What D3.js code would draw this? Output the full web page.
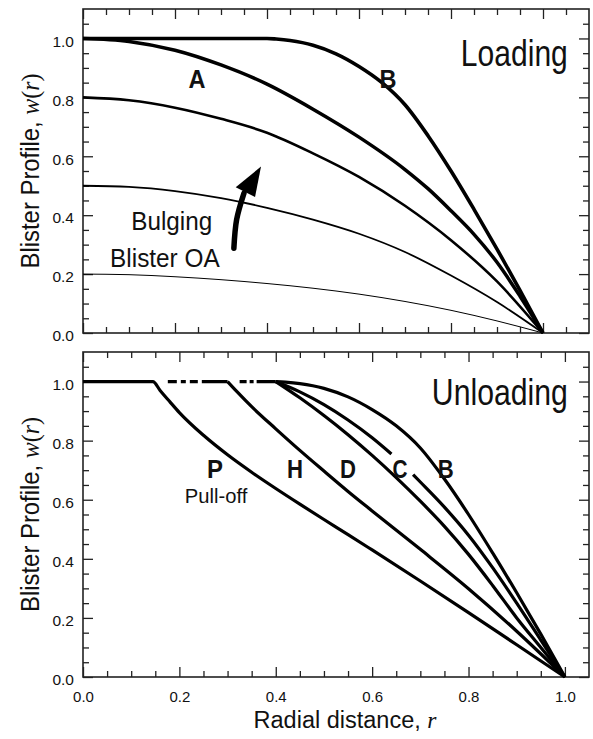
<!DOCTYPE html>
<html><head><meta charset="utf-8">
<script src="https://cdn.jsdelivr.net/npm/d3@7"></script>
<style>
body{margin:0;background:#fff}
svg{display:block}
text{font-family:"Liberation Sans",Arial,sans-serif;fill:#111}
</style>
</head><body>
<svg id="chart" width="593" height="739"></svg>
<script>
// ---------- DATA ----------
// Loading panel
const rB  = [0, 0.20, 0.38, 0.40, 0.42, 0.45, 0.50, 0.55, 0.60, 0.65, 0.70, 0.75, 0.80, 0.85, 0.90, 0.95, 1.00];
const wB  = [1, 1, 1, 1, 0.998, 0.993, 0.977, 0.948, 0.905, 0.85, 0.775, 0.67, 0.55, 0.42, 0.285, 0.145, 0];
const rA  = [0, 0.1, 0.2, 0.3, 0.4, 0.5, 0.6, 0.7, 0.75, 0.8, 0.85, 0.9, 0.95, 1.0];
const wA  = [1, 0.99, 0.96, 0.91, 0.845, 0.76, 0.665, 0.555, 0.49, 0.415, 0.335, 0.24, 0.125, 0];
const rLow = [0, 0.1, 0.2, 0.3, 0.4, 0.5, 0.6, 0.7, 0.8, 0.9, 1.0];
const w08 = [0.8, 0.79, 0.765, 0.727, 0.68, 0.61, 0.53, 0.432, 0.315, 0.175, 0];
const w05 = [0.5, 0.496, 0.482, 0.458, 0.425, 0.385, 0.337, 0.275, 0.195, 0.105, 0];
const w02 = [0.2, 0.198, 0.191, 0.181, 0.168, 0.152, 0.132, 0.107, 0.077, 0.041, 0];

// Unloading panel
const rP = [0, 0.145, 0.16, 0.18, 0.2, 0.25, 0.3, 0.35, 0.4, 0.45, 0.5, 0.55, 0.6, 0.7, 0.8, 0.9, 1.0];
const wP = [1, 1, 0.97, 0.932, 0.895, 0.818, 0.752, 0.693, 0.638, 0.585, 0.533, 0.482, 0.43, 0.325, 0.218, 0.109, 0];
const rH = [0.3, 0.32, 0.35, 0.4, 0.45, 0.5, 0.55, 0.6, 0.7, 0.8, 0.9, 1.0];
const wH = [1, 0.965, 0.915, 0.84, 0.767, 0.697, 0.628, 0.562, 0.432, 0.299, 0.155, 0];
const rD = [0.4, 0.45, 0.5, 0.55, 0.6, 0.65, 0.7, 0.75, 0.8, 0.85, 0.9, 0.95, 1.0];
const wD = [1, 0.945, 0.885, 0.82, 0.75, 0.675, 0.595, 0.51, 0.415, 0.31, 0.2, 0.1, 0];
const rC = [0.4, 0.45, 0.5, 0.55, 0.6, 0.64, 0.66, 0.685, 0.7, 0.75, 0.8, 0.85, 0.9, 0.95, 1.0];
const wC = [1, 0.965, 0.922, 0.87, 0.81, 0.755, 0.725, 0.685, 0.66, 0.575, 0.48, 0.37, 0.25, 0.125, 0];
const cGap = [0.64, 0.685];
const flatDashed = [[0.176, 0.30], [0.325, 0.40]];   // dashed w = 1 segments

// tick values
const majorTicks = [0, 0.2, 0.4, 0.6, 0.8, 1.0];

// annotations (data coordinates)
const topLabels = [
  {t: "A", r: 0.248, w: 0.831},
  {t: "B", r: 0.663, w: 0.831}
];
const botLabels = [
  {t: "P", r: 0.274, w: 0.675},
  {t: "H", r: 0.44,  w: 0.675},
  {t: "D", r: 0.55,  w: 0.675},
  {t: "C", r: 0.658, w: 0.675},
  {t: "B", r: 0.753, w: 0.675}
];
const arrowShaft = [[0.328, 0.288], [0.334, 0.385], [0.35, 0.475]];
const arrowHead  = [[0.387, 0.565], [0.332, 0.495], [0.374, 0.462]];

// ---------- LAYOUT ----------
const svg = d3.select("#chart");
const L = 83, R = 589;
const top1 = 9, bot1 = 333, top2 = 352, bot2 = 677;

const x1 = d3.scaleLinear().domain([0, 1.1]).range([L, R]);
const y1 = d3.scaleLinear().domain([0, 1.1]).range([bot1, top1]);
const x2 = d3.scaleLinear().domain([0, 1.05]).range([L, R]);
const y2 = d3.scaleLinear().domain([0, 1.1]).range([bot2, top2]);

function minorVals(n) { return d3.range(1, n + 1).filter(i => i % 4 !== 0).map(i => +(i * 0.05).toFixed(2)); }

function drawAxes(x, y, top, bot, nx, showX) {
  const g = svg.append("g");
  const style = s => { s.select(".domain").remove(); s.selectAll("line").attr("stroke", "#222").attr("stroke-width", 1.3); };
  const mx = minorVals(nx), my = minorVals(21);
  // left
  g.append("g").attr("transform", `translate(${L},0)`)
    .call(d3.axisLeft(y).tickValues(majorTicks).tickSize(-10).tickPadding(9).tickFormat(d3.format(".1f")))
    .call(style)
    .call(s => s.selectAll("text").attr("font-size", 15.5).attr("dy", "0.5em").attr("fill", "#111")
      .attr("font-family", '"Liberation Sans",Arial,sans-serif'));
  g.append("g").attr("transform", `translate(${L},0)`)
    .call(d3.axisLeft(y).tickValues(my).tickSize(-6).tickFormat("")).call(style);
  // right
  g.append("g").attr("transform", `translate(${R},0)`)
    .call(d3.axisRight(y).tickValues(majorTicks).tickSize(-10).tickFormat("")).call(style);
  g.append("g").attr("transform", `translate(${R},0)`)
    .call(d3.axisRight(y).tickValues(my).tickSize(-6).tickFormat("")).call(style);
  // top
  g.append("g").attr("transform", `translate(0,${top})`)
    .call(d3.axisTop(x).tickValues(majorTicks).tickSize(-10).tickFormat("")).call(style);
  g.append("g").attr("transform", `translate(0,${top})`)
    .call(d3.axisTop(x).tickValues(mx).tickSize(-6).tickFormat("")).call(style);
  // bottom
  const bx = g.append("g").attr("transform", `translate(0,${bot})`)
    .call(d3.axisBottom(x).tickValues(majorTicks).tickSize(-10).tickPadding(14)
      .tickFormat(showX ? d3.format(".1f") : "")).call(style);
  bx.selectAll("text").attr("font-size", 15).attr("fill", "#111")
    .attr("font-family", '"Liberation Sans",Arial,sans-serif');
  g.append("g").attr("transform", `translate(0,${bot})`)
    .call(d3.axisBottom(x).tickValues(mx).tickSize(-6).tickFormat("")).call(style);
  // frame
  g.append("rect").attr("x", L).attr("y", top).attr("width", R - L).attr("height", bot - top)
    .attr("fill", "none").attr("stroke", "#222").attr("stroke-width", 1.6);
}

drawAxes(x1, y1, top1, bot1, 21, false);
drawAxes(x2, y2, top2, bot2, 20, true);

const zip = (rs, ws) => rs.map((r, i) => ({r, w: ws[i]}));

function curve(x, y, data, sw, defined) {
  const ln = d3.line().x(d => x(d.r)).y(d => y(d.w)).curve(d3.curveMonotoneX);
  if (defined) ln.defined(defined);
  svg.append("path").attr("d", ln(data)).attr("fill", "none").attr("stroke", "#000")
    .attr("stroke-width", sw).attr("stroke-linejoin", "round").attr("stroke-linecap", "butt");
}

// Loading curves
curve(x1, y1, zip(rLow, w02), 1.0);
curve(x1, y1, zip(rLow, w05), 1.8);
curve(x1, y1, zip(rLow, w08), 2.6);
curve(x1, y1, zip(rA, wA), 3.5);
curve(x1, y1, zip(rB, wB), 3.6);

// Unloading curves
curve(x2, y2, zip(rP, wP), 3.2);
curve(x2, y2, zip(rH, wH), 3.2);
curve(x2, y2, zip(rD, wD), 3.2);
curve(x2, y2, zip(rC, wC), 3.2, d => !(d.r > cGap[0] && d.r < cGap[1]));
curve(x2, y2, zip(rB, wB).filter(d => d.r >= 0.4), 3.2);

const dashPatterns = ["9,4,5,4,8,4,200", "7,3,4,3,200"];
flatDashed.forEach((seg, i) => {
  svg.append("line").attr("x1", x2(seg[0])).attr("x2", x2(seg[1]))
    .attr("y1", y2(1)).attr("y2", y2(1))
    .attr("stroke", "#000").attr("stroke-width", 3.2).attr("stroke-dasharray", dashPatterns[i]);
});

// Arrow
const aLine = d3.line().x(d => x1(d[0])).y(d => y1(d[1])).curve(d3.curveNatural);
svg.append("path").attr("d", aLine(arrowShaft)).attr("fill", "none").attr("stroke", "#000")
  .attr("stroke-width", 5.5).attr("stroke-linecap", "round");
svg.append("path").attr("d", "M" + arrowHead.map(d => [x1(d[0]), y1(d[1])].join(",")).join("L") + "Z")
  .attr("fill", "#000");

// ---------- TEXT ----------
function fitText(sel, x, y, target, rot) {
  const w = sel.node().getBBox().width;
  const s = target / w;
  sel.attr("transform", `translate(${x},${y})${rot ? " rotate(-90)" : ""} scale(${s},1)`);
}

function addText(x, y, str, size, weight, anchor, target) {
  const t = svg.append("text").attr("font-size", size).attr("font-weight", weight || "normal")
    .attr("text-anchor", anchor || "middle").text(str);
  fitText(t, x, y, target);
  return t;
}

topLabels.forEach(d => addText(x1(d.r), y1(d.w), d.t, 25, "bold", "middle", 17));
botLabels.forEach(d => addText(x2(d.r), y2(d.w), d.t, 25, "bold", "middle", d.t === "C" ? 15 : 16));

addText(x1(1.054), y1(0.908), "Loading", 37, "normal", "end", 107);
addText(x2(1.006), y2(0.919), "Unloading", 37, "normal", "end", 136);
addText(x1(0.193), y1(0.349), "Bulging", 25, "normal", "middle", 81);
addText(x1(0.178), y1(0.224), "Blister OA", 25, "normal", "middle", 110);
addText(x2(0.276), y2(0.59), "Pull-off", 20, "normal", "middle", 63);

function yTitle(cy) {
  const t = svg.append("text").attr("font-size", 25).attr("text-anchor", "middle");
  t.append("tspan").text("Blister Profile, ");
  t.append("tspan").attr("font-family", '"Liberation Serif","Times New Roman",serif').attr("font-style", "italic").text("w");
  t.append("tspan").attr("font-family", '"Liberation Serif","Times New Roman",serif').text("(");
  t.append("tspan").attr("font-family", '"Liberation Serif","Times New Roman",serif').attr("font-style", "italic").text("r");
  t.append("tspan").attr("font-family", '"Liberation Serif","Times New Roman",serif').text(")");
  fitText(t, 39, cy, 195, true);
}
yTitle((top1 + bot1) / 2);
yTitle((top2 + bot2) / 2);

const xt = svg.append("text").attr("font-size", 23).attr("text-anchor", "middle");
xt.append("tspan").text("Radial distance, ");
xt.append("tspan").attr("font-family", '"Liberation Serif","Times New Roman",serif').attr("font-style", "italic").text("r");
fitText(xt, 345, 728, 184);
</script>
</body></html>
